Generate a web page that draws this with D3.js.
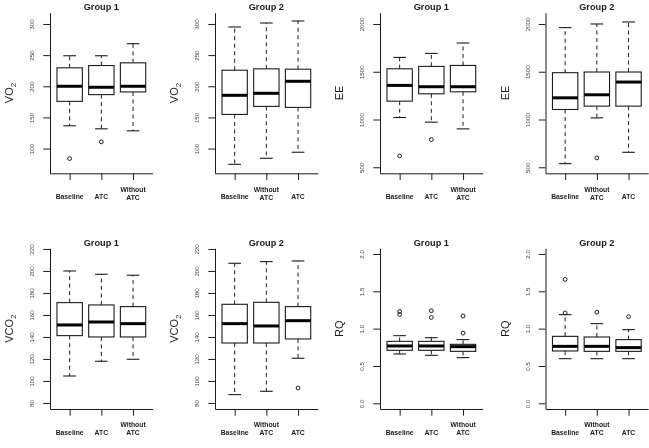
<!DOCTYPE html>
<html>
<head>
<meta charset="utf-8">
<script src="https://cdn.jsdelivr.net/npm/d3@7"></script>
<style>
  html, body { margin: 0; padding: 0; background: #fff; }
  svg { display: block; font-family: "Liberation Sans", Arial, sans-serif; opacity: 0.995; will-change: transform; }
</style>
</head>
<body>
<div id="chart"></div>
<script>
// ---------------- DATA ----------------
const titles = ["Group 1", "Group 2", "Group 1", "Group 2", "Group 1", "Group 2", "Group 1", "Group 2"];
const catsG1 = ["Baseline", "ATC", "Without\nATC"];
const catsG2 = ["Baseline", "Without\nATC", "ATC"];

// each box: [lower whisker, Q1, median, Q3, upper whisker]
const vo2G1 = [[136.6, 175.8, 200, 229.6, 249], [131.7, 186.6, 198.4, 233.3, 249], [128.5, 190.9, 200, 237.6, 268.3]];
const vo2G1Out = [[83.9], [110.8], []];
const vo2G2 = [[74.7, 154.8, 185.5, 225.8, 295.2], [84.4, 167.7, 188.7, 228, 301.6], [94.1, 166.1, 208, 227.4, 304.8]];
const vo2G2Out = [[], [], []];

const eeG1 = [[1021, 1192, 1357, 1531, 1650], [972, 1269, 1343, 1556, 1692], [902, 1290, 1343, 1566, 1801]];
const eeG1Out = [[619], [790], []];
const eeG2 = [[538, 1105, 1227, 1490, 1962], [1017, 1140, 1259, 1497, 2000], [657, 1140, 1392, 1497, 2021]];
const eeG2Out = [[], [598], []];

const vco2G1 = [[104.5, 141.2, 150.9, 171.2, 200], [117.9, 140, 153.6, 169.1, 197], [119.7, 140, 152.1, 167.6, 196.1]];
const vco2G1Out = [[], [], []];
const vco2G2 = [[87.6, 134.5, 152.1, 169.7, 207], [90.6, 134.5, 150, 171.5, 208.5], [120.6, 138.2, 154.8, 167.6, 209.1]];
const vco2G2Out = [[], [], [93.6]];

const rqG1 = [[0.661, 0.71, 0.768, 0.83, 0.906], [0.643, 0.71, 0.768, 0.83, 0.879], [0.612, 0.696, 0.759, 0.79, 0.853]];
const rqG1Out = [[1.19, 1.23], [1.15, 1.24], [0.94, 1.17]];
const rqG2 = [[0.598, 0.701, 0.763, 0.897, 1.188], [0.598, 0.696, 0.763, 0.888, 1.067], [0.598, 0.696, 0.746, 0.853, 0.987]];
const rqG2Out = [[1.21, 1.66], [1.22], [1.16]];

// axis domains and tick labels
const vo2Domain = [60.3, 318.1];
const vo2Ticks = [100, 150, 200, 250, 300];
const eeDomain = [437, 2118];
const eeTicks = [500, 1000, 1500, 2000];
const vco2Domain = [74.5, 220.6];
const vco2Ticks = [80, 100, 120, 140, 160, 180, 200, 220];
const rqDomain = [-0.076, 2.076];
const rqTicks = [0, 0.5, 1.0, 1.5, 2.0];

// ---------------- LAYOUT ----------------
const W = 649, H = 448;
const ink = "#1a1a1a";
const colLeft = [50, 215, 380, 545.5];
const plotW = 102.7;
const rowTop = [12.7, 248.3];
const rowBottom = [173.3, 409];

const fmtInt = d3.format("d");
const fmt1 = d3.format(".1f");

const panels = [
  { title: titles[0], ylab: ["VO", "2"], cats: catsG1, stats: vo2G1, out: vo2G1Out, dom: vo2Domain, ticks: vo2Ticks, fmt: fmtInt },
  { title: titles[1], ylab: ["VO", "2"], cats: catsG2, stats: vo2G2, out: vo2G2Out, dom: vo2Domain, ticks: vo2Ticks, fmt: fmtInt },
  { title: titles[2], ylab: ["EE", ""], cats: catsG1, stats: eeG1, out: eeG1Out, dom: eeDomain, ticks: eeTicks, fmt: fmtInt },
  { title: titles[3], ylab: ["EE", ""], cats: catsG2, stats: eeG2, out: eeG2Out, dom: eeDomain, ticks: eeTicks, fmt: fmtInt },
  { title: titles[4], ylab: ["VCO", "2"], cats: catsG1, stats: vco2G1, out: vco2G1Out, dom: vco2Domain, ticks: vco2Ticks, fmt: fmtInt },
  { title: titles[5], ylab: ["VCO", "2"], cats: catsG2, stats: vco2G2, out: vco2G2Out, dom: vco2Domain, ticks: vco2Ticks, fmt: fmtInt },
  { title: titles[6], ylab: ["RQ", ""], cats: catsG1, stats: rqG1, out: rqG1Out, dom: rqDomain, ticks: rqTicks, fmt: fmt1 },
  { title: titles[7], ylab: ["RQ", ""], cats: catsG2, stats: rqG2, out: rqG2Out, dom: rqDomain, ticks: rqTicks, fmt: fmt1 }
];

const svg = d3.select("#chart").append("svg")
  .attr("width", W).attr("height", H)
  .attr("viewBox", `0 0 ${W} ${H}`);
svg.append("rect").attr("width", W).attr("height", H).attr("fill", "#fff");

panels.forEach((p, i) => {
  const col = i % 4, row = Math.floor(i / 4);
  const left = colLeft[col], right = left + plotW;
  const top = rowTop[row], bottom = rowBottom[row];
  const x = d3.scaleLinear().domain([0.38, 3.62]).range([left, right]);
  const y = d3.scaleLinear().domain(p.dom).range([bottom, top]);
  const g = svg.append("g");

  // y axis
  const ya = g.append("g")
    .attr("transform", `translate(${left},0)`)
    .call(d3.axisLeft(y).tickValues(p.ticks).tickFormat(p.fmt).tickSize(6.7).tickSizeOuter(0));
  ya.attr("font-family", null).attr("font-size", null);
  ya.select(".domain").attr("stroke", ink);
  ya.selectAll(".tick line").attr("stroke", ink);
  ya.selectAll(".tick text")
    .attr("x", null).attr("dy", null)
    .attr("transform", "translate(-15.8,0) rotate(-90)")
    .attr("text-anchor", "middle")
    .attr("font-size", 6.2)
    .attr("fill", "#444");

  // x axis
  const xa = g.append("g")
    .attr("transform", `translate(0,${bottom})`)
    .call(d3.axisBottom(x).tickValues([1, 2, 3]).tickFormat("").tickSize(6.7).tickSizeOuter(0));
  xa.select(".domain").attr("stroke", ink);
  xa.selectAll(".tick line").attr("stroke", ink);

  p.cats.forEach((c, j) => {
    const lines = c.split("\n");
    const t = g.append("text")
      .attr("text-anchor", "middle")
      .attr("font-weight", "bold")
      .attr("font-size", 6.8)
      .attr("fill", ink);
    if (lines.length === 1) {
      t.attr("x", x(j + 1)).attr("y", bottom + 26.1).text(lines[0]);
    } else {
      t.append("tspan").attr("x", x(j + 1)).attr("y", bottom + 18.3).text(lines[0]);
      t.append("tspan").attr("x", x(j + 1)).attr("y", bottom + 26.3).text(lines[1]);
    }
  });

  // title
  g.append("text")
    .attr("x", x(2)).attr("y", top - 2.5)
    .attr("text-anchor", "middle")
    .attr("font-weight", "bold")
    .attr("font-size", 9.2)
    .attr("fill", ink)
    .text(p.title);

  // y label
  const yl = g.append("text")
    .attr("transform", `translate(${left - 37},${(top + bottom) / 2}) rotate(-90)`)
    .attr("text-anchor", "middle")
    .attr("font-size", 11)
    .attr("fill", ink);
  yl.append("tspan").text(p.ylab[0]);
  if (p.ylab[1]) yl.append("tspan").attr("font-size", 8).attr("dy", 3).text(p.ylab[1]);

  // boxes
  const hw = x(1.4) - x(1);
  p.stats.forEach((s, j) => {
    const cx = x(j + 1);
    const [lo, q1, med, q3, hi] = s;
    // whiskers
    g.append("line").attr("x1", cx).attr("x2", cx).attr("y1", y(q3)).attr("y2", y(hi))
      .attr("stroke", ink).attr("stroke-dasharray", "4,3.5");
    g.append("line").attr("x1", cx).attr("x2", cx).attr("y1", y(q1)).attr("y2", y(lo))
      .attr("stroke", ink).attr("stroke-dasharray", "4,3.5");
    // caps
    [lo, hi].forEach(v => {
      g.append("line").attr("x1", cx - hw / 2).attr("x2", cx + hw / 2)
        .attr("y1", y(v)).attr("y2", y(v)).attr("stroke", ink).attr("stroke-width", 1.1);
    });
    // box
    g.append("rect")
      .attr("x", cx - hw).attr("width", 2 * hw)
      .attr("y", y(q3)).attr("height", y(q1) - y(q3))
      .attr("fill", "#fff").attr("stroke", ink).attr("stroke-width", 1.1);
    // median
    g.append("line").attr("x1", cx - hw).attr("x2", cx + hw)
      .attr("y1", y(med)).attr("y2", y(med))
      .attr("stroke", "#000").attr("stroke-width", 3);
    // outliers
    p.out[j].forEach(v => {
      g.append("circle").attr("cx", cx).attr("cy", y(v)).attr("r", 1.9)
        .attr("fill", "none").attr("stroke", ink).attr("stroke-width", 1);
    });
  });
});
</script>
</body>
</html>
